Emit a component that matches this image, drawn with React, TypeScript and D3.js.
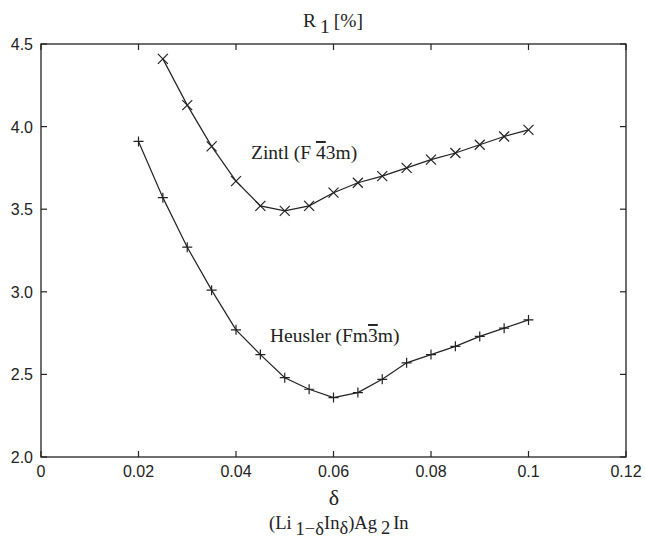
import React from "react"
import * as d3 from "d3"

const zintlX = [0.025, 0.03, 0.035, 0.04, 0.045, 0.05, 0.055, 0.06, 0.065, 0.07, 0.075, 0.08, 0.085, 0.09, 0.095, 0.1]
const zintlR = [4.41, 4.13, 3.88, 3.67, 3.52, 3.49, 3.52, 3.6, 3.66, 3.7, 3.75, 3.8, 3.84, 3.89, 3.94, 3.98]

const heuslerX = [0.02, 0.025, 0.03, 0.035, 0.04, 0.045, 0.05, 0.055, 0.06, 0.065, 0.07, 0.075, 0.08, 0.085, 0.09, 0.095, 0.1]
const heuslerR = [3.91, 3.57, 3.27, 3.01, 2.77, 2.62, 2.48, 2.41, 2.36, 2.39, 2.47, 2.57, 2.62, 2.67, 2.73, 2.78, 2.83]

const xTicks = [0, 0.02, 0.04, 0.06, 0.08, 0.1, 0.12]
const xTickLabels = ["0", "0.02", "0.04", "0.06", "0.08", "0.1", "0.12"]
const yTicks = [2.0, 2.5, 3.0, 3.5, 4.0, 4.5]

const W = 645
const H = 539
const left = 41
const right = 626
const top = 44
const bottom = 457

const sans = "Liberation Sans"
const serif = "Liberation Serif"

export default function App() {
  const x = d3.scaleLinear().domain([0, 0.12]).range([left, right])
  const y = d3.scaleLinear().domain([2, 4.5]).range([bottom, top])

  const line = d3
    .line<[number, number]>()
    .x((d) => x(d[0]))
    .y((d) => y(d[1]))

  const zintl: [number, number][] = zintlX.map((v, i) => [v, zintlR[i]])
  const heusler: [number, number][] = heuslerX.map((v, i) => [v, heuslerR[i]])

  const tick = 6
  const m = 5
  const sansStyle = { fontFamily: sans, fontSize: 16 }
  const serifStyle = { fontFamily: serif, fontSize: 19.5 }

  return (
    <svg width={W} height={H} style={{ position: "absolute", left: 0, top: 0, background: "#fff" }}>
      <rect x={0} y={0} width={W} height={H} fill="#fff" />
      <rect x={left} y={top} width={right - left} height={bottom - top} fill="none" stroke="#222" strokeWidth={1.3} />

      {xTicks.map((t, i) => (
        <g key={"x" + i}>
          <line x1={x(t)} x2={x(t)} y1={bottom} y2={bottom - tick} stroke="#222" strokeWidth={1.2} />
          <line x1={x(t)} x2={x(t)} y1={top} y2={top + tick} stroke="#222" strokeWidth={1.2} />
          <text x={x(t)} y={477} textAnchor="middle" style={sansStyle} fill="#222">
            {xTickLabels[i]}
          </text>
        </g>
      ))}

      {yTicks.map((t, i) => (
        <g key={"y" + i}>
          <line x1={left} x2={left + tick} y1={y(t)} y2={y(t)} stroke="#222" strokeWidth={1.2} />
          <line x1={right} x2={right - tick} y1={y(t)} y2={y(t)} stroke="#222" strokeWidth={1.2} />
          <text x={33} y={y(t) + 6} textAnchor="end" style={sansStyle} fill="#222">
            {t.toFixed(1)}
          </text>
        </g>
      ))}

      <path d={line(zintl) ?? ""} fill="none" stroke="#222" strokeWidth={1.2} />
      <path d={line(heusler) ?? ""} fill="none" stroke="#222" strokeWidth={1.2} />

      {zintl.map((d, i) => (
        <path
          key={"z" + i}
          d={`M${x(d[0]) - m},${y(d[1]) - m}L${x(d[0]) + m},${y(d[1]) + m}M${x(d[0]) - m},${y(d[1]) + m}L${x(d[0]) + m},${y(d[1]) - m}`}
          stroke="#222"
          strokeWidth={1.2}
        />
      ))}
      {heusler.map((d, i) => (
        <path
          key={"h" + i}
          d={`M${x(d[0]) - m},${y(d[1])}L${x(d[0]) + m},${y(d[1])}M${x(d[0])},${y(d[1]) - m}L${x(d[0])},${y(d[1]) + m}`}
          stroke="#222"
          strokeWidth={1.2}
        />
      ))}

      <text x={251} y={159} style={serifStyle} fill="#222">
        Zintl (F <tspan style={{ textDecoration: "overline" }}>4</tspan>3m)
      </text>
      <text x={270} y={342} style={serifStyle} fill="#222">
        Heusler (Fm<tspan style={{ textDecoration: "overline" }}>3</tspan>m)
      </text>

      <text x={303} y={27} style={serifStyle} fill="#222">
        R<tspan dx={4} dy={6}>1</tspan>
        <tspan dx={4} dy={-6}>[%]</tspan>
      </text>

      <text x={334} y={505} textAnchor="middle" style={{ fontFamily: serif, fontSize: 22 }} fill="#222">
        δ
      </text>

      <text x={269} y={529} style={{ fontFamily: serif, fontSize: 18.5 }} fill="#222">
        (Li<tspan dx={4} dy={6}>1−δ</tspan>
        <tspan dy={-6}>In</tspan>
        <tspan dy={5}>δ</tspan>
        <tspan dy={-5}>)Ag</tspan>
        <tspan dx={4} dy={5}>2</tspan>
        <tspan dx={3} dy={-5}>In</tspan>
      </text>
    </svg>
  )
}
